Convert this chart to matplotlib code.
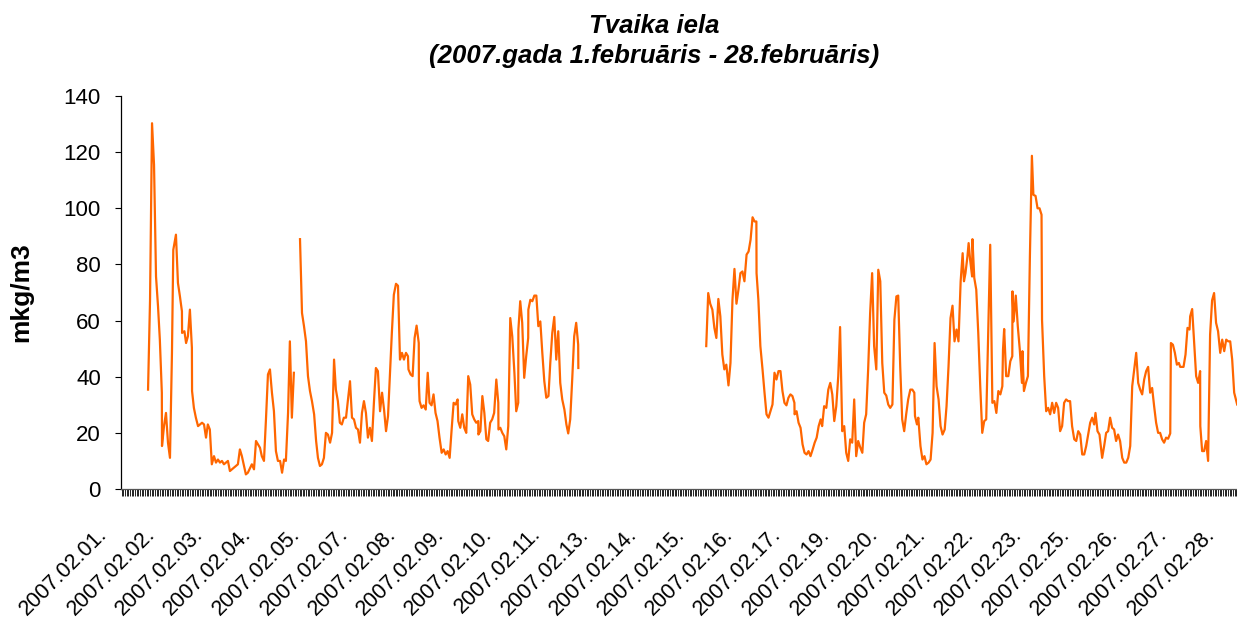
import numpy as np
import matplotlib
matplotlib.use("Agg")
import matplotlib.pyplot as plt
from matplotlib.ticker import MultipleLocator
from matplotlib.transforms import ScaledTranslation

plt.rcParams['font.family'] = ['Liberation Sans', 'DejaVu Sans']

# hour index (category number from 2007.02.01 00:00, 672 hours) and concentration, mkg/m3
# read off the chart vertex by vertex; the three runs are separated by missing data
hours_1 = [15.8, 17.0, 18.2, 19.4, 20.6, 21.8, 22.9, 24.1, 24.2, 25.4, 26.6, 27.8, 29.0,
           30.2, 31.0, 32.6, 33.8, 35.0, 36.2, 36.3, 37.7, 38.7, 39.8, 41.0, 42.2, 42.3,
           43.4, 44.6, 45.9, 47.1, 48.3, 49.5, 50.7, 51.8, 53.0, 54.2, 55.5, 56.7, 57.9,
           59.1, 60.3, 61.5, 63.9, 65.1, 67.5, 69.9, 71.1, 72.3, 74.7, 75.9, 78.3, 79.6,
           80.8, 82.0, 83.2, 84.3, 85.6, 86.8, 88.0, 89.2, 90.4, 91.6, 92.8, 94.0, 95.3,
           96.5, 97.7, 98.8, 100.1, 101.2, 102.4, 103.6]
pm_1 = [35.4, 67.4, 130.3, 115.5, 75.7, 65.1, 53.2, 34.3, 15.3, 22.4, 27.1, 16.5, 11.1,
        48.5, 85.2, 90.6, 73.4, 68.6, 63.3, 55.6, 56.2, 52.0, 54.4, 63.9, 50.3, 34.9,
        28.9, 25.4, 22.4, 23.0, 23.6, 23.0, 18.3, 23.0, 21.2, 8.8, 11.7, 9.4, 10.5,
        9.4, 10.0, 8.8, 10.0, 6.4, 7.6, 8.8, 14.1, 11.7, 5.2, 5.8, 8.8, 7.0,
        17.1, 15.9, 14.7, 11.7, 10.0, 24.8, 40.8, 42.6, 34.3, 27.7, 13.5, 10.0, 10.0,
        5.8, 10.5, 10.0, 27.1, 52.6, 25.4, 41.4]

hours_2 = [107.3, 108.5, 109.7, 110.9, 112.1, 113.3, 114.5, 115.8, 117.0, 118.1, 119.3,
           120.5, 121.7, 122.9, 124.1, 125.4, 126.6, 127.8, 128.9, 130.1, 131.3, 132.5,
           133.7, 135.0, 136.2, 137.4, 138.6, 139.8, 141.0, 142.2, 143.4, 144.6, 145.8,
           147.0, 148.2, 149.4, 150.6, 151.8, 153.0, 154.2, 155.5, 156.7, 157.9, 159.1,
           160.3, 161.5, 162.6, 163.8, 165.1, 166.3, 167.5, 168.7, 169.9, 171.1, 172.3,
           172.6, 173.9, 175.1, 176.3, 177.5, 178.8, 178.9, 179.3, 180.5, 181.7, 183.0,
           184.2, 185.3, 186.5, 187.7, 188.9, 190.1, 191.3, 192.6, 193.8, 195.0, 196.2,
           197.4, 198.6, 199.8, 201.0, 202.2, 202.6, 203.8, 205.0, 206.2, 207.4, 208.6,
           209.8, 211.0, 212.2, 213.4, 214.6, 214.7, 215.9, 217.1, 218.3, 219.5, 220.6,
           221.8, 223.0, 224.2, 225.5, 226.7, 226.8, 227.9, 229.1, 230.3, 231.5, 232.7,
           233.9, 235.1, 236.4, 237.5, 238.7, 238.8, 239.9, 241.1, 242.3, 243.5, 244.7,
           244.8, 246.0, 247.2, 248.4, 249.6, 250.8, 252.0, 253.2, 254.4, 255.6, 256.9,
           258.0, 259.2, 260.4, 261.6, 262.8, 264.0, 265.2, 266.5, 267.7, 268.8, 270.0,
           271.2, 272.4, 273.6, 274.8, 274.9]
pm_2 = [89.0, 62.7, 58.0, 52.6, 40.2, 34.9, 31.3, 26.6, 17.1, 11.1, 8.2,
        8.8, 11.1, 20.0, 19.4, 16.5, 20.0, 46.1, 35.4, 31.3, 23.6, 23.0,
        25.4, 25.4, 31.9, 38.4, 25.4, 24.8, 21.8, 21.2, 16.5, 27.1, 31.3,
        27.1, 18.3, 21.8, 17.1, 30.7, 43.1, 42.0, 27.7, 34.3, 28.3, 20.6,
        26.0, 41.4, 55.6, 69.2, 73.1, 72.4, 46.1, 48.5, 46.1, 48.5, 47.3,
        42.6, 40.8, 40.2, 53.8, 58.2, 52.0, 37.2, 31.3, 28.9, 29.8, 28.3,
        41.4, 30.7, 29.8, 33.7, 27.1, 24.2, 18.3, 12.9, 14.1, 12.3, 13.5,
        11.1, 21.2, 30.7, 30.1, 31.9, 24.2, 21.8, 26.6, 21.8, 20.0, 40.2,
        37.2, 26.6, 24.8, 23.6, 24.2, 19.4, 20.6, 33.1, 27.1, 17.7, 17.1,
        23.6, 24.8, 27.1, 39.0, 30.7, 21.2, 21.8, 20.0, 18.8, 14.1, 22.4,
        60.9, 54.4, 41.4, 27.7, 30.7, 56.8, 66.9, 59.2, 39.6, 47.3, 53.8,
        63.9, 67.4, 66.9, 68.9, 68.9, 58.0, 59.7, 48.5, 38.4, 32.5, 33.1,
        44.9, 55.6, 61.3, 46.1, 56.2, 37.8, 31.9, 28.3, 23.0, 19.8, 24.8,
        39.0, 54.4, 59.2, 51.4, 43.1]

hours_3 = [351.9, 353.1, 354.3, 355.6, 356.8, 358.0, 359.2, 360.4, 361.6, 362.8, 364.0,
           365.3, 366.5, 367.7, 368.9, 370.1, 371.3, 372.5, 373.7, 374.9, 376.2, 377.4,
           378.6, 379.8, 381.0, 382.1, 382.2, 383.3, 384.5, 385.8, 387.0, 388.2, 389.4,
           390.6, 391.8, 393.0, 394.2, 395.4, 396.6, 397.8, 399.0, 400.2, 401.4, 402.6,
           403.8, 405.0, 405.1, 406.3, 407.5, 408.7, 409.9, 411.1, 412.3, 413.5, 414.7,
           416.0, 417.2, 418.4, 419.6, 420.8, 421.7, 422.9, 424.2, 425.4, 426.6, 427.8,
           429.0, 430.2, 431.4, 432.5, 433.8, 435.0, 436.2, 437.4, 438.6, 439.8, 441.0,
           442.2, 443.4, 444.7, 445.9, 447.0, 448.2, 449.4, 450.6, 451.8, 453.0, 454.3,
           455.5, 456.7, 457.9, 459.1, 460.3, 461.5, 462.7, 464.0, 465.2, 466.4, 467.5,
           468.7, 469.9, 471.1, 472.3, 473.5, 474.8, 476.0, 477.2, 477.6, 478.8, 479.6,
           480.9, 482.1, 483.3, 484.5, 485.8, 487.0, 488.2, 489.4, 490.6, 491.8, 493.0,
           494.2, 495.5, 496.6, 497.8, 499.0, 500.2, 501.4, 502.6, 503.8, 505.1, 506.3,
           507.1, 508.0, 509.2, 509.9, 510.8, 512.0, 512.2, 513.3, 514.5, 515.7, 516.9,
           518.1, 519.3, 520.5, 521.7, 522.9, 524.2, 525.4, 526.6, 527.8, 529.0, 530.2,
           530.6, 531.3, 532.5, 533.8, 535.0, 536.2, 536.3, 537.0, 538.3, 539.5, 540.7,
           542.0, 542.3, 543.2, 544.4, 545.6, 546.8, 548.0, 548.9, 550.2, 551.4, 552.6,
           553.8, 554.1,
           555.4, 556.6, 557.8, 559.0, 560.2, 561.4, 562.6, 563.8, 565.0, 566.2,
           567.4, 568.6, 569.8, 571.0, 572.2, 573.5, 574.7, 575.9, 577.1, 578.3,
           579.5, 580.7, 581.9, 583.1, 584.3, 585.5, 586.3, 587.5, 588.7, 590.3,
           591.5, 592.7, 593.9, 595.1, 596.3, 597.5, 598.7, 599.9, 601.1, 602.4,
           603.6, 604.8, 606.0, 607.2, 608.4, 609.6, 610.8, 612.0, 613.2, 614.4,
           615.6, 616.8, 618.0, 619.2, 620.4, 621.6, 622.8, 624.0, 625.2, 626.4,
           627.6, 628.8, 630.0, 631.3, 631.7, 632.9, 634.1, 635.3, 636.5, 637.3,
           639.3, 640.5, 641.7, 642.9, 643.3, 644.5, 645.7, 646.9, 648.1, 649.3,
           649.4, 650.5, 651.7, 652.9, 654.1, 655.3, 656.5, 657.7, 658.9, 660.1,
           661.4, 662.6, 663.8, 665.0, 666.2, 667.4, 668.6, 669.8, 671.6]
pm_3 = [50.9, 69.8, 66.0, 63.9, 57.4, 53.8, 67.7, 61.5, 47.9, 42.6, 44.3,
        36.9, 44.9, 67.4, 78.4, 66.0, 71.0, 76.9, 77.5, 74.0, 83.5, 84.6,
        88.8, 96.8, 95.3, 95.3, 76.9, 67.4, 50.9, 42.6, 34.3, 26.6, 25.4,
        27.7, 30.1, 41.4, 39.0, 42.0, 42.0, 34.9, 30.7, 29.8, 32.5, 33.7,
        33.1, 30.7, 26.6, 27.7, 23.6, 21.8, 15.9, 12.9, 12.3, 13.5, 11.7,
        14.1, 16.5, 18.3, 22.4, 24.8, 22.4, 29.5, 28.9, 35.4, 37.8, 33.7,
        24.2, 29.5, 40.2, 57.7, 20.6, 22.4, 12.9, 10.0, 17.7, 16.5, 31.9,
        11.7, 17.1, 14.7, 12.9, 23.6, 26.6, 42.6, 62.7, 76.9, 50.9, 42.6,
        78.1, 74.0, 44.9, 34.3, 33.3, 30.1, 28.9, 30.1, 60.3, 68.6, 68.9,
        43.7, 24.8, 20.6, 26.6, 31.9, 35.4, 35.4, 34.3, 26.0, 23.0, 25.4,
        15.3, 10.5, 11.7, 8.8, 9.4, 10.5, 20.0, 52.0, 36.6, 31.9, 22.4,
        19.4, 21.2, 29.5, 43.7, 60.9, 65.3, 52.6, 56.8, 52.6, 74.0, 84.0,
        74.0, 76.9, 82.9, 87.6, 81.7, 75.7, 89.0, 75.2, 71.0, 55.6, 36.6,
        20.0, 24.2, 24.8, 55.6, 87.0, 30.7, 31.3, 27.1, 34.9, 33.7, 36.6,
        49.7, 57.0, 40.2, 40.2, 45.5, 47.3, 70.4, 59.7, 68.9, 58.0, 49.7,
        37.8, 49.1, 34.9, 37.8, 40.2, 82.9, 118.7, 104.8, 104.4, 100.0, 100.0,
        97.7, 60.3,
        40.2, 27.7, 28.9, 26.6, 30.7, 27.1, 30.7, 28.9, 20.6, 22.4,
        30.7, 31.9, 31.3, 31.3, 22.4, 17.7, 17.1, 20.6, 19.4, 12.3,
        12.3, 15.3, 19.4, 23.6, 25.4, 23.0, 27.1, 20.6, 19.4, 11.1,
        15.3, 20.0, 20.6, 25.4, 21.8, 21.2, 17.1, 19.4, 17.1, 11.1,
        9.4, 9.4, 11.1, 15.3, 36.6, 42.6, 48.5, 37.8, 35.4, 33.7,
        39.0, 42.0, 43.5, 34.3, 36.0, 29.5, 23.6, 20.0, 20.0, 17.7,
        16.5, 18.3, 17.9, 19.8, 52.0, 51.4, 48.5, 44.3, 44.9, 43.5,
        43.5, 47.9, 57.4, 56.8, 61.5, 64.1, 52.0, 40.2, 37.8, 42.0,
        22.4, 13.5, 13.5, 17.1, 10.0, 55.0, 67.2, 69.8, 59.2, 56.2,
        48.5, 53.2, 49.1, 53.2, 52.6, 52.6, 46.1, 34.3, 30.1]

date_labels = ["2007.02.01.", "2007.02.02.", "2007.02.03.", "2007.02.04.", "2007.02.05.",
               "2007.02.07.", "2007.02.08.", "2007.02.09.", "2007.02.10.", "2007.02.11.",
               "2007.02.13.", "2007.02.14.", "2007.02.15.", "2007.02.16.", "2007.02.17.",
               "2007.02.19.", "2007.02.20.", "2007.02.21.", "2007.02.22.", "2007.02.23.",
               "2007.02.25.", "2007.02.26.", "2007.02.27.", "2007.02.28."]
label_step = 29   # Excel shows a date label every 29 hourly categories
n_hours = 672

x = np.concatenate([hours_1, [np.nan], hours_2, [np.nan], hours_3])
y = np.concatenate([pm_1, [np.nan], pm_2, [np.nan], pm_3])

fig = plt.figure(figsize=(12.37, 6.23), dpi=100)
ax = fig.add_axes([0.0978, 0.2151, 0.9022, 0.6308])

ax.plot(x, y, color='#FF6600', lw=1.6)

ax.set_xlim(-0.5, n_hours - 0.5)
ax.set_ylim(0, 140)
ax.set_yticks(np.arange(0, 141, 20))
ax.tick_params(axis='y', direction='out', length=4.5, width=0.8, pad=10, labelsize=16)

ax.set_xticks(np.arange(len(date_labels)) * label_step)
ax.set_xticklabels(date_labels, rotation=45, ha='right', va='baseline',
                   rotation_mode='anchor', fontsize=15.5)
ax.xaxis.set_minor_locator(MultipleLocator(1))
ax.tick_params(axis='x', which='both', direction='out', length=5, width=0.6,
               color='black', pad=28)
offset = ScaledTranslation(-0.14, 0, fig.dpi_scale_trans)
for lab in ax.get_xticklabels():
    lab.set_transform(lab.get_transform() + offset)

for s in ['top', 'right']:
    ax.spines[s].set_visible(False)
ax.spines['left'].set_linewidth(0.9)
ax.spines['bottom'].set_linewidth(0.9)
ax.spines['bottom'].set_color('#555555')

ax.set_ylabel('mkg/m3', fontsize=19, fontweight='bold')
ax.yaxis.set_label_coords(-0.0785, 0.5)

fig.text(0.5287, 0.934, 'Tvaika iela\n(2007.gada 1.februāris - 28.februāris)',
         ha='center', va='center', fontsize=18.5, fontweight='bold', fontstyle='italic',
         linespacing=1.3)

fig.savefig('out.png', dpi=100)
